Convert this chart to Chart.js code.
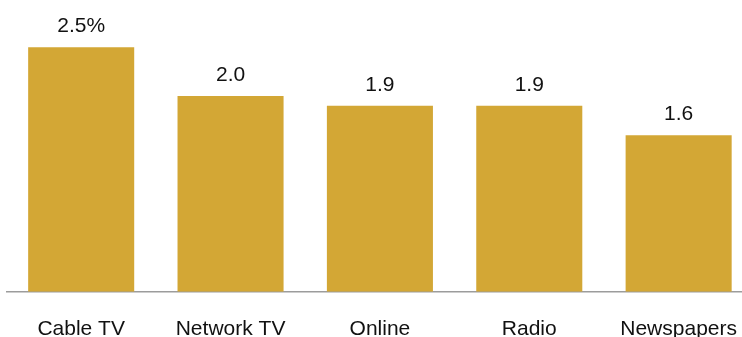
<!DOCTYPE html>
<html>
<head>
<meta charset="utf-8">
<script src="https://cdn.jsdelivr.net/npm/chart.js@4/dist/chart.umd.min.js"></script>
<style>
  html, body { margin: 0; padding: 0; overflow: hidden; background: #fff; }
  #wrap { position: relative; width: 762px; height: 367px; }
</style>
</head>
<body>
<div id="wrap"><canvas id="myChart"></canvas></div>
<script>
var categories = ["Cable TV", "Network TV", "Online", "Radio", "Newspapers"];
var values = [2.5, 2.0, 1.9, 1.9, 1.6];
var valueLabels = ["2.5%", "2.0", "1.9", "1.9", "1.6"];

// writes each bar's value just above it
var barValues = {
  id: "barValues",
  afterDatasetsDraw: function(chart) {
    var ctx = chart.ctx;
    var meta = chart.getDatasetMeta(0);
    ctx.save();
    ctx.font = "21px 'Liberation Sans', Arial, sans-serif";
    ctx.fillStyle = "#111";
    ctx.textAlign = "center";
    ctx.textBaseline = "alphabetic";
    meta.data.forEach(function(bar, i) {
      ctx.fillText(valueLabels[i], bar.x, bar.y - 15);
    });
    ctx.restore();
  }
};

var ctx = document.getElementById("myChart").getContext("2d");
var myChart = new Chart(ctx, {
  type: "bar",
  data: {
    labels: categories,
    datasets: [{
      data: values,
      backgroundColor: "#D3A735",
      borderWidth: 0,
      categoryPercentage: 1,
      barPercentage: 0.71
    }]
  },
  options: {
    responsive: true,
    maintainAspectRatio: false,
    animation: false,
    layout: { padding: { left: 6.5, right: 0, top: 8, bottom: 0 } },
    plugins: {
      legend: { display: false },
      tooltip: { enabled: false }
    },
    scales: {
      x: {
        grid: { display: false, drawTicks: false },
        border: { display: true, color: "#9c9c9c", width: 1.5 },
        ticks: {
          color: "#111",
          padding: 25,
          maxRotation: 0,
          autoSkip: false,
          font: { family: "'Liberation Sans', Arial, sans-serif", size: 21 }
        }
      },
      y: {
        display: false,
        min: 0,
        max: 2.9
      }
    }
  },
  plugins: [barValues]
});
</script>
</body>
</html>
